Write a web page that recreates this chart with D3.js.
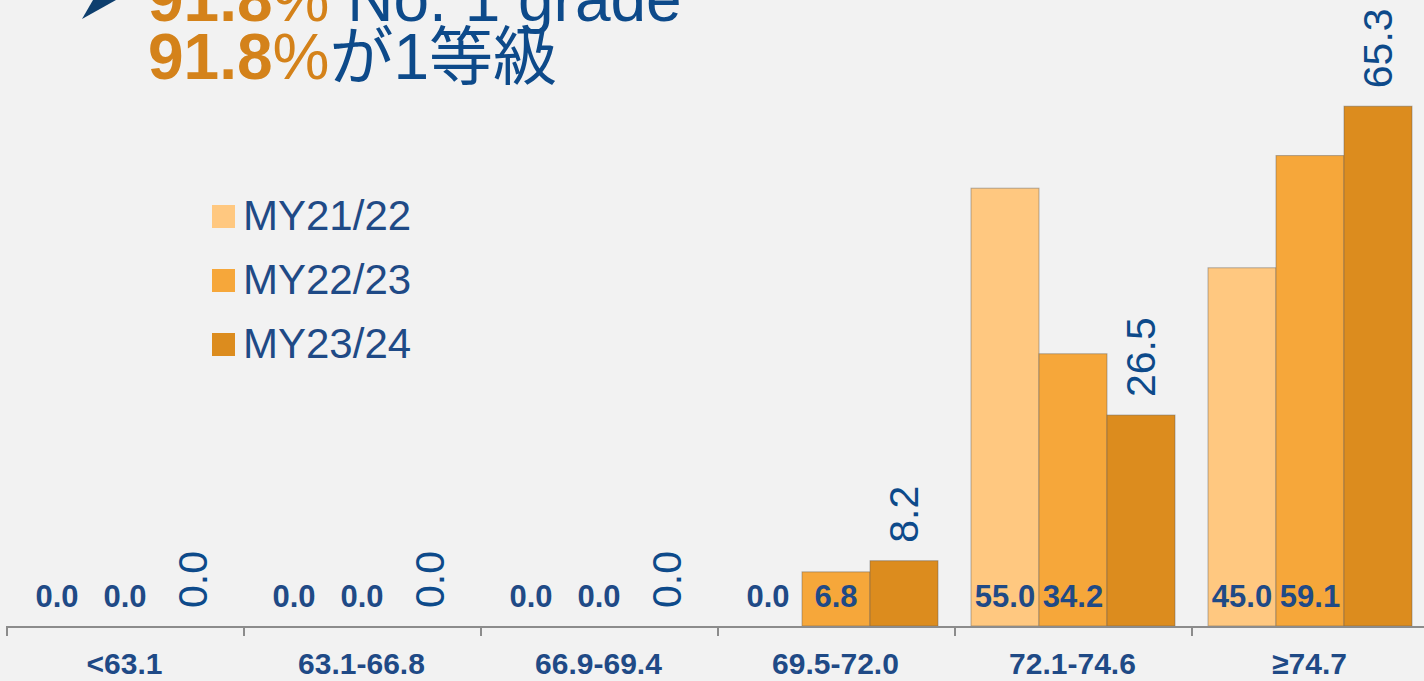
<!DOCTYPE html>
<html>
<head>
<meta charset="utf-8">
<script src="https://cdn.jsdelivr.net/npm/d3@7"></script>
<style>
  html, body { margin: 0; padding: 0; background: #F2F2F2; overflow: hidden; }
  svg { display: block; }
</style>
</head>
<body>
<svg id="chart" width="1424" height="681"></svg>
<script>
const categories = ["<63.1", "63.1-66.8", "66.9-69.4", "69.5-72.0", "72.1-74.6", "≥74.7"];
const seriesNames = ["MY21/22", "MY22/23", "MY23/24"];
const my2122 = [0.0, 0.0, 0.0, 0.0, 55.0, 45.0];
const my2223 = [0.0, 0.0, 0.0, 6.8, 34.2, 59.1];
const my2324 = [0.0, 0.0, 0.0, 8.2, 26.5, 65.3];
const seriesValues = [my2122, my2223, my2324];
const seriesColors = ["#FFC880", "#F6A73A", "#DC8C1E"];

const W = 1424, H = 681;
const baseY = 626;
const font = "'Liberation Sans', Arial, 'Noto Sans CJK JP', sans-serif";
const labelBlue = "#1F4A86";
const rotBlue = "#0D4A8A";
const orange = "#D4821A";

const svg = d3.select("#chart");
svg.append("rect").attr("width", W).attr("height", H).attr("fill", "#F2F2F2");

const x0 = d3.scaleBand().domain(categories).range([7, 7 + 6 * 237]).paddingInner(0).paddingOuter(0);
const x1 = d3.scaleBand().domain(seriesNames).range([16, 220]).padding(0);
const y = d3.scaleLinear().domain([0, 70]).range([baseY, baseY - 70 * 7.96]);

// bars
const g = svg.append("g");
seriesNames.forEach((s, si) => {
  const vals = seriesValues[si];
  g.selectAll(null).data(categories).enter().append("rect")
    .attr("x", c => x0(c) + x1(s))
    .attr("y", (c, i) => y(vals[i]))
    .attr("width", x1.bandwidth())
    .attr("height", (c, i) => baseY - y(vals[i]))
    .attr("fill", seriesColors[si])
    .attr("stroke", "rgba(90,90,90,0.45)")
    .attr("stroke-width", 1);
});

// axis
const axis = d3.axisBottom(x0).tickSize(0).tickFormat("");
const axG = svg.append("g").attr("transform", `translate(0,${baseY})`).call(axis);
axG.select(".domain").attr("stroke", "#8C8C8C").attr("stroke-width", 2)
  .attr("d", `M7,10V1H${W + 10}`);
const bounds = categories.map(c => x0(c)).concat([x0(categories[5]) + x0.bandwidth()]);
axG.selectAll(".bt").data(bounds).enter().append("line")
  .attr("x1", d => d).attr("x2", d => d).attr("y1", 1).attr("y2", 10)
  .attr("stroke", "#8C8C8C").attr("stroke-width", 2);

// category labels
svg.append("g").selectAll("text").data(categories).enter().append("text")
  .attr("x", c => x0(c) + x0.bandwidth() / 2 - 1)
  .attr("y", 674)
  .attr("text-anchor", "middle")
  .attr("font-family", font).attr("font-weight", "bold").attr("font-size", 30)
  .attr("fill", labelBlue)
  .text(c => c);

// data labels (series 1 & 2)
[0, 1].forEach(si => {
  const vals = seriesValues[si];
  svg.append("g").selectAll("text").data(categories).enter().append("text")
    .attr("x", c => x0(c) + x1(seriesNames[si]) + x1.bandwidth() / 2)
    .attr("y", 607)
    .attr("text-anchor", "middle")
    .attr("font-family", font).attr("font-weight", "bold").attr("font-size", 31)
    .attr("fill", labelBlue)
    .text((c, i) => vals[i].toFixed(1));
});

// data labels series 3 (rotated)
svg.append("g").selectAll("text").data(categories).enter().append("text")
  .attr("transform", (c, i) => `translate(${x0(c) + x1(seriesNames[2]) + x1.bandwidth() / 2},${y(my2324[i]) - 18}) rotate(-90)`)
  .attr("text-anchor", "start")
  .attr("dominant-baseline", "central")
  .attr("font-family", font).attr("font-size", 41)
  .attr("fill", rotBlue)
  .text((c, i) => my2324[i].toFixed(1));

// legend
const lg = svg.append("g");
seriesNames.forEach((s, i) => {
  const ly = 205 + i * 64;
  lg.append("rect").attr("x", 212).attr("y", ly).attr("width", 23).attr("height", 23)
    .attr("fill", seriesColors[i]);
  lg.append("text").attr("x", 243).attr("y", ly + 25)
    .attr("font-family", font).attr("font-size", 42)
    .attr("fill", labelBlue).text(s);
});

// title
svg.append("path").attr("d", "M82,19L93,0L116,0Z").attr("fill", "#0E3F6E");
const t1 = svg.append("text").attr("x", 148).attr("y", 21)
  .attr("font-family", font).attr("font-size", 64);
t1.append("tspan").attr("fill", orange).attr("font-weight", "bold").text("91.8");
t1.append("tspan").attr("fill", orange).text("%");
t1.append("tspan").attr("fill", rotBlue).text(" No. 1 grade");
const t2 = svg.append("text").attr("x", 148).attr("y", 79)
  .attr("font-family", font).attr("font-size", 64);
t2.append("tspan").attr("fill", orange).attr("font-weight", "bold").text("91.8");
t2.append("tspan").attr("fill", orange).text("%");
t2.append("tspan").attr("fill", rotBlue).text("が1等級");
</script>
</body>
</html>
